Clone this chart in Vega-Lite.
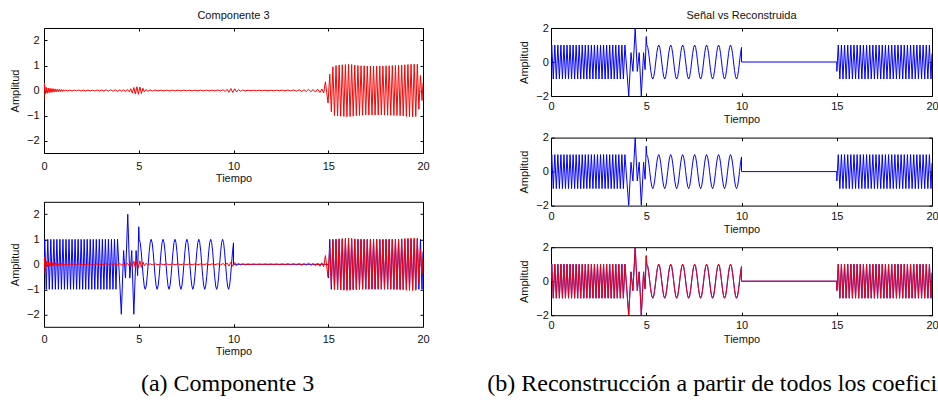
{
  "$schema": "https://vega.github.io/schema/vega-lite/v6.json",
  "background": "#ffffff",
  "padding": {"left": 9, "top": 9, "right": 0, "bottom": 0},
  "spacing": 57,
  "hconcat": [
    {
      "vconcat": [
        {
          "width": 379, "height": 125,
          "title": {"text": "Componente 3", "offset": 6.5},
          "layer": [
            {
              "data": {"name": "componente3"},
              "mark": {"type": "line", "color": "#ff0000", "strokeWidth": 1, "clip": true},
              "encoding": {
                "x": {"field": "t", "type": "quantitative", "scale": {"domain": [0, 20], "nice": false},
                      "axis": {"orient": "bottom", "values": [0, 5, 10, 15, 20], "title": "Tiempo", "labelPadding": 10, "titlePadding": 1}},
                "y": {"field": "y", "type": "quantitative", "scale": {"domain": [-2.5, 2.5], "nice": false},
                      "axis": {"orient": "left", "values": [-2, -1, 0, 1, 2], "title": "Amplitud", "labelPadding": 8, "titlePadding": 5.5}}
              }
            },
            {
              "data": {"name": "componente3"},
              "mark": {"type": "line", "opacity": 0},
              "encoding": {
                "x": {"field": "t", "type": "quantitative", "axis": {"orient": "top", "values": [0, 5, 10, 15, 20], "labels": false, "title": null}},
                "y": {"field": "y", "type": "quantitative", "axis": {"orient": "right", "values": [-2, -1, 0, 1, 2], "labels": false, "title": null}}
              }
            }
          ],
          "resolve": {"axis": {"x": "independent", "y": "independent"}}
        },
        {
          "width": 379, "height": 125,
          "layer": [
            {
              "data": {"name": "senal"},
              "mark": {"type": "line", "color": "#0000ff", "strokeWidth": 1, "clip": true},
              "encoding": {
                "x": {"field": "t", "type": "quantitative", "scale": {"domain": [0, 20], "nice": false},
                      "axis": {"orient": "bottom", "values": [0, 5, 10, 15, 20], "title": "Tiempo", "labelPadding": 10, "titlePadding": 1}},
                "y": {"field": "y", "type": "quantitative", "scale": {"domain": [-2.5, 2.5], "nice": false},
                      "axis": {"orient": "left", "values": [-2, -1, 0, 1, 2], "title": "Amplitud", "labelPadding": 8, "titlePadding": 5.5}}
              }
            },
            {
              "data": {"name": "componente3"},
              "mark": {"type": "line", "color": "#ff0000", "strokeWidth": 1, "clip": true},
              "encoding": {
                "x": {"field": "t", "type": "quantitative", "axis": null},
                "y": {"field": "y", "type": "quantitative", "axis": null}
              }
            },
            {
              "data": {"name": "componente3"},
              "mark": {"type": "line", "opacity": 0},
              "encoding": {
                "x": {"field": "t", "type": "quantitative", "axis": {"orient": "top", "values": [0, 5, 10, 15, 20], "labels": false, "title": null}},
                "y": {"field": "y", "type": "quantitative", "axis": {"orient": "right", "values": [-2, -1, 0, 1, 2], "labels": false, "title": null}}
              }
            }
          ],
          "resolve": {"axis": {"x": "independent", "y": "independent"}}
        }
      ],
      "spacing": 48.8,
      "bounds": "flush",
      "title": {"text": "(a) Componente 3", "orient": "bottom", "anchor": "middle", "offset": 14.6, "dx": 8,
                "font": "Liberation Serif", "fontSize": 24, "fontWeight": "normal", "color": "#000000"}
    },
    {
      "vconcat": [
        {
          "width": 381, "height": 68,
          "title": {"text": "Señal vs Reconstruida", "offset": 1},
          "layer": [
            {
              "data": {"name": "senal"},
              "mark": {"type": "line", "color": "#0000ff", "strokeWidth": 1, "clip": true},
              "encoding": {
                "x": {"field": "t", "type": "quantitative", "scale": {"domain": [0, 20], "nice": false},
                      "axis": {"orient": "bottom", "values": [0, 5, 10, 15, 20], "title": "Tiempo", "labelPadding": 7.5, "titlePadding": 2.3}},
                "y": {"field": "y", "type": "quantitative", "scale": {"domain": [-2, 2], "nice": false},
                      "axis": {"orient": "left", "values": [-2, 0, 2], "title": "Amplitud", "labelPadding": 5.7, "titlePadding": 6}}
              }
            },
            {
              "data": {"name": "senal"},
              "mark": {"type": "line", "opacity": 0},
              "encoding": {
                "x": {"field": "t", "type": "quantitative", "axis": {"orient": "top", "values": [0, 5, 10, 15, 20], "labels": false, "title": null}},
                "y": {"field": "y", "type": "quantitative", "axis": {"orient": "right", "values": [-2, 0, 2], "labels": false, "title": null}}
              }
            }
          ],
          "resolve": {"axis": {"x": "independent", "y": "independent"}}
        },
        {
          "width": 381, "height": 68,
          "layer": [
            {
              "data": {"name": "senal"},
              "mark": {"type": "line", "color": "#0000ff", "strokeWidth": 1, "clip": true},
              "encoding": {
                "x": {"field": "t", "type": "quantitative", "scale": {"domain": [0, 20], "nice": false},
                      "axis": {"orient": "bottom", "values": [0, 5, 10, 15, 20], "title": "Tiempo", "labelPadding": 7.5, "titlePadding": 2.3}},
                "y": {"field": "y", "type": "quantitative", "scale": {"domain": [-2, 2], "nice": false},
                      "axis": {"orient": "left", "values": [-2, 0, 2], "title": "Amplitud", "labelPadding": 5.7, "titlePadding": 6}}
              }
            },
            {
              "data": {"name": "senal"},
              "mark": {"type": "line", "opacity": 0},
              "encoding": {
                "x": {"field": "t", "type": "quantitative", "axis": {"orient": "top", "values": [0, 5, 10, 15, 20], "labels": false, "title": null}},
                "y": {"field": "y", "type": "quantitative", "axis": {"orient": "right", "values": [-2, 0, 2], "labels": false, "title": null}}
              }
            }
          ],
          "resolve": {"axis": {"x": "independent", "y": "independent"}}
        },
        {
          "width": 381, "height": 68,
          "layer": [
            {
              "data": {"name": "senal"},
              "mark": {"type": "line", "color": "#0000ff", "strokeWidth": 1, "clip": true},
              "encoding": {
                "x": {"field": "t", "type": "quantitative", "scale": {"domain": [0, 20], "nice": false},
                      "axis": {"orient": "bottom", "values": [0, 5, 10, 15, 20], "title": "Tiempo", "labelPadding": 7.5, "titlePadding": 2.3}},
                "y": {"field": "y", "type": "quantitative", "scale": {"domain": [-2, 2], "nice": false},
                      "axis": {"orient": "left", "values": [-2, 0, 2], "title": "Amplitud", "labelPadding": 5.7, "titlePadding": 6}}
              }
            },
            {
              "data": {"name": "senal"},
              "mark": {"type": "line", "color": "#ff0000", "strokeWidth": 1, "opacity": 0.9, "clip": true},
              "encoding": {
                "x": {"field": "t", "type": "quantitative", "axis": null},
                "y": {"field": "y", "type": "quantitative", "axis": null}
              }
            },
            {
              "data": {"name": "senal"},
              "mark": {"type": "line", "opacity": 0},
              "encoding": {
                "x": {"field": "t", "type": "quantitative", "axis": {"orient": "top", "values": [0, 5, 10, 15, 20], "labels": false, "title": null}},
                "y": {"field": "y", "type": "quantitative", "axis": {"orient": "right", "values": [-2, 0, 2], "labels": false, "title": null}}
              }
            }
          ],
          "resolve": {"axis": {"x": "independent", "y": "independent"}}
        }
      ],
      "spacing": 41.6,
      "bounds": "flush",
      "title": {"text": "(b) Reconstrucción a partir de todos los coefici", "orient": "bottom", "anchor": "start", "offset": 27.3, "dx": -31,
                "font": "Liberation Serif", "fontSize": 24, "fontWeight": "normal", "color": "#000000"}
    }
  ],
  "datasets": {
    "senal": [
      {"t": 0, "y": 0},
      {"t": 0.04, "y": 1}, {"t": 0.12, "y": -1}, {"t": 0.2, "y": 1}, {"t": 0.28, "y": -1}, {"t": 0.36, "y": 1}, {"t": 0.44, "y": -1},
      {"t": 0.52, "y": 1}, {"t": 0.6, "y": -1}, {"t": 0.68, "y": 1}, {"t": 0.76, "y": -1}, {"t": 0.84, "y": 1}, {"t": 0.92, "y": -1},
      {"t": 1.0, "y": 1}, {"t": 1.08, "y": -1}, {"t": 1.16, "y": 1}, {"t": 1.24, "y": -1}, {"t": 1.32, "y": 1}, {"t": 1.4, "y": -1},
      {"t": 1.48, "y": 1}, {"t": 1.56, "y": -1}, {"t": 1.64, "y": 1}, {"t": 1.72, "y": -1}, {"t": 1.8, "y": 1}, {"t": 1.88, "y": -1},
      {"t": 1.96, "y": 1}, {"t": 2.04, "y": -1}, {"t": 2.12, "y": 1}, {"t": 2.2, "y": -1}, {"t": 2.28, "y": 1}, {"t": 2.36, "y": -1},
      {"t": 2.44, "y": 1}, {"t": 2.52, "y": -1}, {"t": 2.6, "y": 1}, {"t": 2.68, "y": -1}, {"t": 2.76, "y": 1}, {"t": 2.84, "y": -1},
      {"t": 2.92, "y": 1}, {"t": 3.0, "y": -1}, {"t": 3.08, "y": 1}, {"t": 3.16, "y": -1}, {"t": 3.24, "y": 1}, {"t": 3.32, "y": -1},
      {"t": 3.4, "y": 1}, {"t": 3.48, "y": -1}, {"t": 3.56, "y": 1}, {"t": 3.64, "y": -1}, {"t": 3.72, "y": 1}, {"t": 3.8, "y": -1},
      {"t": 3.88, "y": 1},
      {"t": 4.08, "y": -2}, {"t": 4.2, "y": 0.55}, {"t": 4.3, "y": -0.55}, {"t": 4.42, "y": 2}, {"t": 4.53, "y": -0.55},
      {"t": 4.63, "y": 0.55}, {"t": 4.74, "y": -2}, {"t": 4.86, "y": 0.55}, {"t": 4.94, "y": -0.45}, {"t": 5.0, "y": 1.5},
      {"t": 5.0265, "y": 1}, {"t": 5.0789, "y": 0.866}, {"t": 5.1313, "y": 0.5}, {"t": 5.1836, "y": 0}, {"t": 5.236, "y": -0.5},
      {"t": 5.2883, "y": -0.866}, {"t": 5.3407, "y": -1}, {"t": 5.3931, "y": -0.866}, {"t": 5.4454, "y": -0.5}, {"t": 5.4978, "y": 0},
      {"t": 5.5501, "y": 0.5}, {"t": 5.6025, "y": 0.866}, {"t": 5.6549, "y": 1}, {"t": 5.7072, "y": 0.866}, {"t": 5.7596, "y": 0.5},
      {"t": 5.8119, "y": 0}, {"t": 5.8643, "y": -0.5}, {"t": 5.9167, "y": -0.866}, {"t": 5.969, "y": -1}, {"t": 6.0214, "y": -0.866},
      {"t": 6.0737, "y": -0.5}, {"t": 6.1261, "y": 0}, {"t": 6.1785, "y": 0.5}, {"t": 6.2308, "y": 0.866}, {"t": 6.2832, "y": 1},
      {"t": 6.3355, "y": 0.866}, {"t": 6.3879, "y": 0.5}, {"t": 6.4403, "y": 0}, {"t": 6.4926, "y": -0.5}, {"t": 6.545, "y": -0.866},
      {"t": 6.5973, "y": -1}, {"t": 6.6497, "y": -0.866}, {"t": 6.7021, "y": -0.5}, {"t": 6.7544, "y": 0}, {"t": 6.8068, "y": 0.5},
      {"t": 6.8591, "y": 0.866}, {"t": 6.9115, "y": 1}, {"t": 6.9639, "y": 0.866}, {"t": 7.0162, "y": 0.5}, {"t": 7.0686, "y": 0},
      {"t": 7.1209, "y": -0.5}, {"t": 7.1733, "y": -0.866}, {"t": 7.2257, "y": -1}, {"t": 7.278, "y": -0.866}, {"t": 7.3304, "y": -0.5},
      {"t": 7.3827, "y": 0}, {"t": 7.4351, "y": 0.5}, {"t": 7.4875, "y": 0.866}, {"t": 7.5398, "y": 1}, {"t": 7.5922, "y": 0.866},
      {"t": 7.6445, "y": 0.5}, {"t": 7.6969, "y": 0}, {"t": 7.7493, "y": -0.5}, {"t": 7.8016, "y": -0.866}, {"t": 7.854, "y": -1},
      {"t": 7.9063, "y": -0.866}, {"t": 7.9587, "y": -0.5}, {"t": 8.0111, "y": 0}, {"t": 8.0634, "y": 0.5}, {"t": 8.1158, "y": 0.866},
      {"t": 8.1681, "y": 1}, {"t": 8.2205, "y": 0.866}, {"t": 8.2729, "y": 0.5}, {"t": 8.3252, "y": 0}, {"t": 8.3776, "y": -0.5},
      {"t": 8.4299, "y": -0.866}, {"t": 8.4823, "y": -1}, {"t": 8.5347, "y": -0.866}, {"t": 8.587, "y": -0.5}, {"t": 8.6394, "y": 0},
      {"t": 8.6917, "y": 0.5}, {"t": 8.7441, "y": 0.866}, {"t": 8.7965, "y": 1}, {"t": 8.8488, "y": 0.866}, {"t": 8.9012, "y": 0.5},
      {"t": 8.9535, "y": 0}, {"t": 9.0059, "y": -0.5}, {"t": 9.0583, "y": -0.866}, {"t": 9.1106, "y": -1}, {"t": 9.163, "y": -0.866},
      {"t": 9.2153, "y": -0.5}, {"t": 9.2677, "y": 0}, {"t": 9.3201, "y": 0.5}, {"t": 9.3724, "y": 0.866}, {"t": 9.4248, "y": 1},
      {"t": 9.4771, "y": 0.866}, {"t": 9.5295, "y": 0.5}, {"t": 9.5819, "y": 0}, {"t": 9.6342, "y": -0.5}, {"t": 9.6866, "y": -0.866},
      {"t": 9.7389, "y": -1}, {"t": 9.7913, "y": -0.866}, {"t": 9.8437, "y": -0.5}, {"t": 9.896, "y": 0}, {"t": 9.9484, "y": 0.5},
      {"t": 10.0, "y": 0.862}, {"t": 10.001, "y": 0},
      {"t": 15.0, "y": 0}, {"t": 15.005, "y": -0.55},
      {"t": 15.08, "y": 1}, {"t": 15.1625, "y": -1}, {"t": 15.245, "y": 1}, {"t": 15.3275, "y": -1}, {"t": 15.41, "y": 1},
      {"t": 15.4925, "y": -1}, {"t": 15.575, "y": 1}, {"t": 15.6575, "y": -1}, {"t": 15.74, "y": 1}, {"t": 15.8225, "y": -1},
      {"t": 15.905, "y": 1}, {"t": 15.9875, "y": -1}, {"t": 16.07, "y": 1}, {"t": 16.1525, "y": -1}, {"t": 16.235, "y": 1},
      {"t": 16.3175, "y": -1}, {"t": 16.4, "y": 1}, {"t": 16.4825, "y": -1}, {"t": 16.565, "y": 1}, {"t": 16.6475, "y": -1},
      {"t": 16.73, "y": 1}, {"t": 16.8125, "y": -1}, {"t": 16.895, "y": 1}, {"t": 16.9775, "y": -1}, {"t": 17.06, "y": 1},
      {"t": 17.1425, "y": -1}, {"t": 17.225, "y": 1}, {"t": 17.3075, "y": -1}, {"t": 17.39, "y": 1}, {"t": 17.4725, "y": -1},
      {"t": 17.555, "y": 1}, {"t": 17.6375, "y": -1}, {"t": 17.72, "y": 1}, {"t": 17.8025, "y": -1}, {"t": 17.885, "y": 1},
      {"t": 17.9675, "y": -1}, {"t": 18.05, "y": 1}, {"t": 18.1325, "y": -1}, {"t": 18.215, "y": 1}, {"t": 18.2975, "y": -1},
      {"t": 18.38, "y": 1}, {"t": 18.4625, "y": -1}, {"t": 18.545, "y": 1}, {"t": 18.6275, "y": -1}, {"t": 18.71, "y": 1},
      {"t": 18.7925, "y": -1}, {"t": 18.875, "y": 1}, {"t": 18.9575, "y": -1}, {"t": 19.04, "y": 1}, {"t": 19.1225, "y": -1},
      {"t": 19.205, "y": 1}, {"t": 19.2875, "y": -1}, {"t": 19.37, "y": 1}, {"t": 19.4525, "y": -1}, {"t": 19.535, "y": 1},
      {"t": 19.6175, "y": -1}, {"t": 19.7, "y": 1}, {"t": 19.7825, "y": -1}, {"t": 19.865, "y": 1}, {"t": 19.9475, "y": -1},
      {"t": 20.0, "y": 0.5}
    ],
    "componente3": [
      {"t": 0, "y": -0.38}, {"t": 0.02, "y": 0.3}, {"t": 0.07, "y": -0.14}, {"t": 0.12, "y": 0.13}, {"t": 0.17, "y": -0.11},
      {"t": 0.22, "y": 0.1}, {"t": 0.27, "y": -0.09}, {"t": 0.32, "y": 0.09}, {"t": 0.37, "y": -0.08}, {"t": 0.42, "y": 0.08},
      {"t": 0.47, "y": -0.07}, {"t": 0.52, "y": 0.07}, {"t": 0.57, "y": -0.06}, {"t": 0.62, "y": 0.06}, {"t": 0.67, "y": -0.05},
      {"t": 0.72, "y": 0.05}, {"t": 0.77, "y": -0.05}, {"t": 0.82, "y": 0.05}, {"t": 0.87, "y": -0.04}, {"t": 0.92, "y": 0.04},
      {"t": 0.97, "y": -0.04}, {"t": 1.02, "y": 0.03}, {"t": 1.07, "y": -0.03}, {"t": 1.12, "y": 0.02},
      {"t": 1.24, "y": -0.015}, {"t": 1.36, "y": 0.015}, {"t": 1.48, "y": -0.015}, {"t": 1.6, "y": 0.015}, {"t": 1.72, "y": -0.015},
      {"t": 1.84, "y": 0.02}, {"t": 1.96, "y": -0.02}, {"t": 2.08, "y": 0.015}, {"t": 2.2, "y": -0.015}, {"t": 2.32, "y": 0.015},
      {"t": 2.44, "y": -0.015}, {"t": 2.56, "y": 0.015}, {"t": 2.68, "y": -0.02}, {"t": 2.8, "y": 0.02}, {"t": 2.92, "y": -0.02},
      {"t": 3.04, "y": 0.02}, {"t": 3.16, "y": -0.02}, {"t": 3.28, "y": 0.025}, {"t": 3.4, "y": -0.025}, {"t": 3.52, "y": 0.03},
      {"t": 3.64, "y": -0.03}, {"t": 3.76, "y": 0.03}, {"t": 3.88, "y": -0.035}, {"t": 4.0, "y": 0.03}, {"t": 4.1, "y": -0.03},
      {"t": 4.2, "y": 0.025}, {"t": 4.3, "y": -0.03}, {"t": 4.4, "y": 0.04}, {"t": 4.5, "y": -0.05}, {"t": 4.58, "y": 0.07},
      {"t": 4.66, "y": -0.1}, {"t": 4.74, "y": 0.12}, {"t": 4.82, "y": -0.14}, {"t": 4.9, "y": 0.15}, {"t": 4.98, "y": -0.15},
      {"t": 5.06, "y": 0.14}, {"t": 5.14, "y": -0.12}, {"t": 5.22, "y": 0.09}, {"t": 5.3, "y": -0.06}, {"t": 5.38, "y": 0.04},
      {"t": 5.48, "y": -0.03}, {"t": 5.6, "y": 0.02}, {"t": 5.72, "y": -0.02}, {"t": 5.87, "y": 0.015}, {"t": 6.02, "y": -0.015},
      {"t": 6.17, "y": 0.015}, {"t": 6.32, "y": -0.015}, {"t": 6.47, "y": 0.015}, {"t": 6.62, "y": -0.015}, {"t": 6.77, "y": 0.015},
      {"t": 6.92, "y": -0.015}, {"t": 7.07, "y": 0.015}, {"t": 7.22, "y": -0.015}, {"t": 7.37, "y": 0.015}, {"t": 7.52, "y": -0.015},
      {"t": 7.67, "y": 0.015}, {"t": 7.82, "y": -0.015}, {"t": 7.97, "y": 0.015}, {"t": 8.12, "y": -0.015}, {"t": 8.27, "y": 0.015},
      {"t": 8.42, "y": -0.015}, {"t": 8.57, "y": 0.015}, {"t": 8.72, "y": -0.015}, {"t": 8.87, "y": 0.015}, {"t": 9.02, "y": -0.015},
      {"t": 9.17, "y": 0.02}, {"t": 9.32, "y": -0.02}, {"t": 9.45, "y": 0.03}, {"t": 9.56, "y": -0.04}, {"t": 9.66, "y": 0.05},
      {"t": 9.76, "y": -0.07}, {"t": 9.86, "y": 0.08}, {"t": 9.96, "y": -0.08}, {"t": 10.06, "y": 0.07}, {"t": 10.16, "y": -0.06},
      {"t": 10.26, "y": 0.04}, {"t": 10.36, "y": -0.03}, {"t": 10.48, "y": 0.02}, {"t": 10.62, "y": -0.015}, {"t": 10.77, "y": 0.01},
      {"t": 10.92, "y": -0.01}, {"t": 11.07, "y": 0.01}, {"t": 11.22, "y": -0.01}, {"t": 11.37, "y": 0.01}, {"t": 11.52, "y": -0.01},
      {"t": 11.67, "y": 0.01}, {"t": 11.82, "y": -0.01}, {"t": 11.97, "y": 0.012}, {"t": 12.12, "y": -0.012}, {"t": 12.27, "y": 0.012},
      {"t": 12.42, "y": -0.012}, {"t": 12.57, "y": 0.015}, {"t": 12.72, "y": -0.015}, {"t": 12.87, "y": 0.02}, {"t": 13.02, "y": -0.02},
      {"t": 13.17, "y": 0.025}, {"t": 13.32, "y": -0.025}, {"t": 13.47, "y": 0.03}, {"t": 13.6, "y": -0.04}, {"t": 13.72, "y": 0.03},
      {"t": 13.84, "y": -0.04}, {"t": 13.96, "y": 0.05}, {"t": 14.08, "y": -0.05}, {"t": 14.2, "y": 0.04}, {"t": 14.32, "y": -0.06},
      {"t": 14.44, "y": 0.05}, {"t": 14.56, "y": -0.08}, {"t": 14.66, "y": 0.06}, {"t": 14.76, "y": -0.1}, {"t": 14.85, "y": 0.35},
      {"t": 14.92, "y": -0.08}, {"t": 14.99, "y": -0.5},
      {"t": 15.08, "y": 0.65}, {"t": 15.1625, "y": -0.85}, {"t": 15.245, "y": 0.95}, {"t": 15.3275, "y": -1.0}, {"t": 15.41, "y": 1.0},
      {"t": 15.4925, "y": -1.02}, {"t": 15.575, "y": 1.02}, {"t": 15.6575, "y": -1.03}, {"t": 15.74, "y": 1.03}, {"t": 15.8225, "y": -1.04},
      {"t": 15.905, "y": 1.04}, {"t": 15.9875, "y": -1.05}, {"t": 16.07, "y": 1.05}, {"t": 16.1525, "y": -1.04}, {"t": 16.235, "y": 1.04},
      {"t": 16.3175, "y": -1.03}, {"t": 16.4, "y": 1.02}, {"t": 16.4825, "y": -1.01}, {"t": 16.565, "y": 1.0}, {"t": 16.6475, "y": -1.0},
      {"t": 16.73, "y": 0.99}, {"t": 16.8125, "y": -0.99}, {"t": 16.895, "y": 0.99}, {"t": 16.9775, "y": -0.98}, {"t": 17.06, "y": 0.98},
      {"t": 17.1425, "y": -0.98}, {"t": 17.225, "y": 0.98}, {"t": 17.3075, "y": -0.98}, {"t": 17.39, "y": 0.98}, {"t": 17.4725, "y": -0.98},
      {"t": 17.555, "y": 0.98}, {"t": 17.6375, "y": -0.98}, {"t": 17.72, "y": 0.98}, {"t": 17.8025, "y": -0.98}, {"t": 17.885, "y": 0.98},
      {"t": 17.9675, "y": -0.98}, {"t": 18.05, "y": 0.99}, {"t": 18.1325, "y": -0.99}, {"t": 18.215, "y": 0.99}, {"t": 18.2975, "y": -0.99},
      {"t": 18.38, "y": 1.0}, {"t": 18.4625, "y": -1.0}, {"t": 18.545, "y": 1.0}, {"t": 18.6275, "y": -1.0}, {"t": 18.71, "y": 1.01},
      {"t": 18.7925, "y": -1.01}, {"t": 18.875, "y": 1.02}, {"t": 18.9575, "y": -1.02}, {"t": 19.04, "y": 1.03}, {"t": 19.1225, "y": -1.04},
      {"t": 19.205, "y": 1.04}, {"t": 19.2875, "y": -1.05}, {"t": 19.37, "y": 1.05}, {"t": 19.4525, "y": -1.05}, {"t": 19.535, "y": 1.05},
      {"t": 19.6175, "y": -1.04}, {"t": 19.7, "y": 1.05}, {"t": 19.7825, "y": -0.75}, {"t": 19.865, "y": 0.6}, {"t": 19.9475, "y": -0.4},
      {"t": 20.0, "y": 0.3}
    ]
  },
  "config": {
    "view": {"stroke": "#000000", "strokeWidth": 1},
    "axis": {
      "domain": false, "grid": false, "ticks": true, "tickColor": "#000000", "tickSize": -3, "tickWidth": 1,
      "labelFont": "Liberation Sans", "labelFontSize": 11, "labelColor": "#111111", "labelFlush": false, "labelOverlap": false,
      "titleFont": "Liberation Sans", "titleFontSize": 11, "titleFontWeight": "normal", "titleColor": "#111111"
    },
    "title": {"font": "Liberation Sans", "fontSize": 11, "fontWeight": "normal", "color": "#111111"}
  }
}
